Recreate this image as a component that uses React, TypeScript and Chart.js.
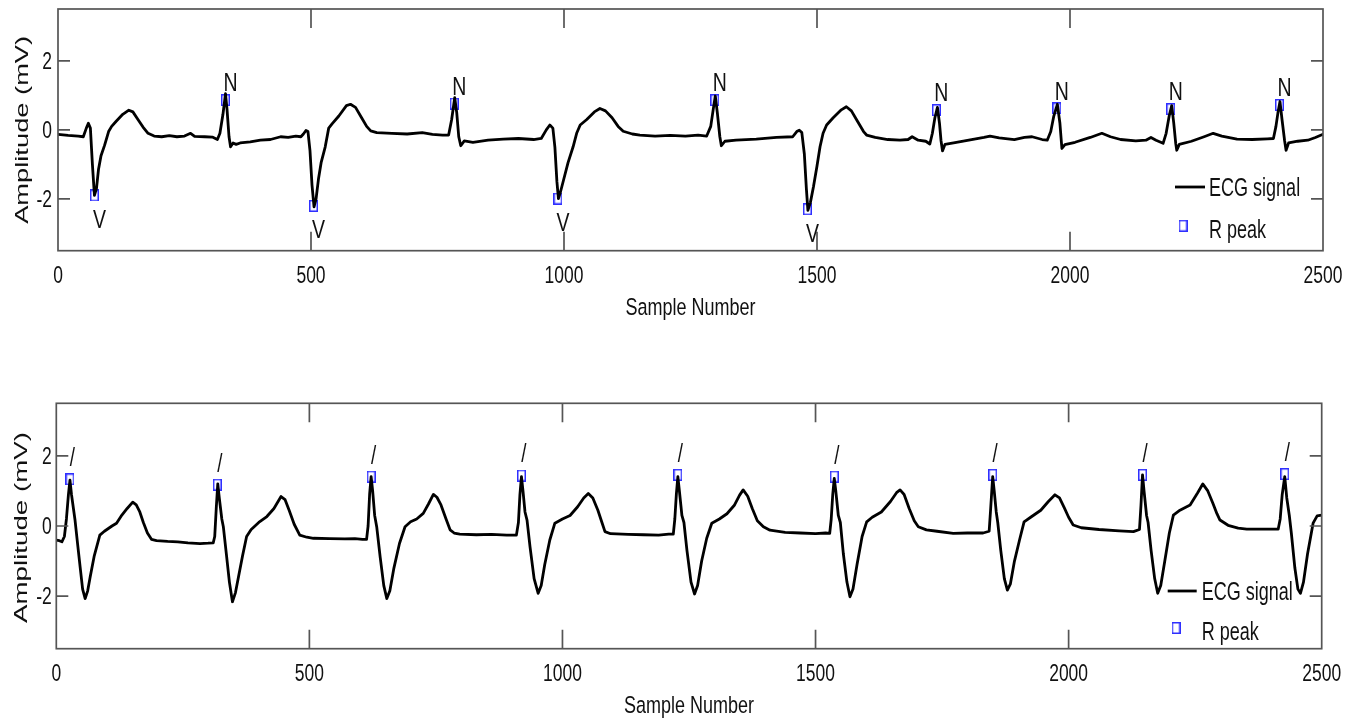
import React, { useEffect, useRef } from "react";
import { Chart, registerables } from "chart.js";

Chart.register(...registerables);

// ---------------- data ----------------
const xTickValues = [0, 500, 1000, 1500, 2000, 2500];
const yTickValues = [-2, 0, 2];
const xTitle = "Sample Number";
const yTitle = "Amplitude (mV)";
const legendLabels = ["ECG signal", "R peak"];

const topSamples = [
  0, 20, 40, 50, 56, 60, 64, 68, 72, 76,
  80, 85, 92, 100, 106, 115, 128, 140, 148, 158,
  168, 178, 190, 205, 220, 235, 250, 262, 270, 290,
  305, 315, 320, 326, 331, 334, 338, 341, 346, 352,
  360, 380, 400, 420, 440, 455, 470, 480, 485, 490,
  494, 498, 502, 506, 510, 515, 520, 528, 535, 542,
  555, 570, 578, 588, 600, 610, 618, 630, 660, 690,
  720, 740, 760, 772, 778, 784, 788, 792, 796, 803,
  820, 850, 880, 910, 940, 955, 965, 972, 978, 982,
  986, 989, 993, 999, 1008, 1018, 1025, 1032, 1045, 1060,
  1071, 1082, 1095, 1107, 1117, 1135, 1150, 1180, 1210, 1240,
  1265, 1282, 1290, 1295, 1299, 1303, 1308, 1311, 1318, 1340,
  1380, 1420, 1452, 1460, 1465, 1470, 1475, 1479, 1482, 1487,
  1493, 1500, 1506, 1512, 1519, 1532, 1548, 1558, 1568, 1580,
  1592, 1598, 1615, 1640, 1664, 1680, 1688, 1700, 1715, 1723,
  1728, 1733, 1738, 1742, 1745, 1748, 1753, 1770, 1800, 1830,
  1842, 1860, 1890, 1910, 1925, 1945, 1955, 1962, 1968, 1975,
  1980, 1984, 1990, 2010, 2040, 2063, 2080, 2100, 2130, 2150,
  2160, 2170, 2184, 2190, 2196, 2201, 2205, 2209, 2211, 2216,
  2240, 2265, 2283, 2300, 2330, 2360, 2390, 2402, 2407, 2411,
  2415, 2419, 2424, 2427, 2432, 2450, 2470, 2485, 2500,
];
const topAmplitudes = [
  -0.13, -0.16, -0.18, -0.2, 0.05, 0.19, 0.05, -1.0, -1.9, -1.7,
  -1.15, -0.75, -0.45, -0.05, 0.1, 0.25, 0.45, 0.57, 0.52, 0.3,
  0.08, -0.1, -0.18, -0.2, -0.17, -0.2, -0.18, -0.1, -0.19, -0.2,
  -0.21, -0.28, -0.1, 0.45, 1.05, 0.6, -0.2, -0.49, -0.38, -0.42,
  -0.38, -0.35, -0.3, -0.28, -0.2, -0.22, -0.18, -0.2, -0.12, -0.02,
  -0.05, -0.6, -1.6, -2.23, -2.0, -1.4, -0.95, -0.5, 0.05, 0.18,
  0.4, 0.7, 0.74, 0.65, 0.35, 0.1, -0.03, -0.08, -0.1, -0.12,
  -0.08, -0.13, -0.15, -0.15, 0.3, 0.93, 0.5, -0.2, -0.46, -0.32,
  -0.36, -0.3, -0.27, -0.25, -0.28, -0.25, 0.0, 0.14, 0.05, -0.5,
  -1.5, -1.99, -1.8, -1.46, -0.95, -0.49, -0.1, 0.14, 0.3, 0.52,
  0.62, 0.55, 0.35, 0.1, -0.04, -0.12, -0.15, -0.18, -0.16, -0.18,
  -0.15, -0.18, 0.1, 0.6, 0.98, 0.5, -0.2, -0.46, -0.33, -0.3,
  -0.27, -0.22, -0.2, -0.05, -0.01, -0.08, -0.7, -1.7, -2.33, -2.1,
  -1.65, -1.05, -0.49, -0.1, 0.14, 0.35, 0.58, 0.67, 0.55, 0.25,
  -0.05, -0.15, -0.22, -0.28, -0.3, -0.28, -0.2, -0.3, -0.33, -0.41,
  -0.1, 0.35, 0.65, 0.2, -0.3, -0.61, -0.42, -0.38, -0.3, -0.22,
  -0.18, -0.23, -0.28, -0.22, -0.2, -0.28, -0.3, -0.05, 0.4, 0.74,
  0.2, -0.54, -0.43, -0.36, -0.22, -0.1, -0.2, -0.28, -0.32, -0.3,
  -0.22, -0.3, -0.39, -0.1, 0.4, 0.7, 0.2, -0.4, -0.59, -0.42,
  -0.33, -0.2, -0.1, -0.18, -0.27, -0.28, -0.26, -0.25, 0.1, 0.5,
  0.82, 0.3, -0.3, -0.59, -0.38, -0.33, -0.3, -0.22, -0.13,
];
const topPeakSamples = [72, 331, 505, 783, 988, 1298, 1481, 1736, 1974, 2199, 2414];
const topPeakAmplitudes = [-1.9, 0.86, -2.2, 0.76, -1.99, 0.86, -2.3, 0.57, 0.62, 0.6, 0.72];
const topPeakLabels = ["V", "N", "V", "N", "V", "N", "V", "N", "N", "N", "N"];

const bottomSamples = [
  0, 6, 11, 16, 20, 24, 27, 30, 37, 42,
  47, 52, 57, 62, 67, 75, 86, 95, 110, 119,
  128, 140, 151, 158, 165, 172, 180, 188, 198, 220,
  240, 260, 284, 300, 310, 313, 316, 319, 322, 327,
  330, 336, 342, 348, 354, 360, 368, 376, 385, 400,
  416, 430, 444, 452, 460, 470, 481, 495, 508, 540,
  570, 590, 605, 613, 616, 619, 622, 625, 629, 633,
  640, 647, 653, 659, 667, 678, 689, 700, 712, 725,
  735, 745, 752, 760, 770, 778, 786, 797, 830, 860,
  890, 909, 913, 916, 919, 922, 926, 930, 936, 944,
  952, 958, 965, 975, 985, 1000, 1015, 1030, 1042, 1051,
  1060, 1070, 1078, 1084, 1095, 1130, 1160, 1190, 1210, 1219,
  1222, 1225, 1228, 1231, 1236, 1240, 1246, 1254, 1261, 1267,
  1275, 1285, 1295, 1310, 1325, 1340, 1350, 1357, 1366, 1375,
  1385, 1397, 1410, 1440, 1470, 1500, 1520, 1528, 1531, 1534,
  1537, 1540, 1545, 1549, 1555, 1562, 1568, 1574, 1582, 1592,
  1601, 1612, 1630, 1648, 1660, 1667, 1675, 1685, 1695, 1703,
  1719, 1740, 1772, 1800, 1831, 1843, 1846, 1850, 1853, 1857,
  1860, 1866, 1873, 1879, 1885, 1893, 1903, 1912, 1925, 1945,
  1960, 1973, 1982, 1992, 2000, 2009, 2025, 2060, 2100, 2128,
  2140, 2143, 2146, 2149, 2154, 2157, 2163, 2170, 2176, 2182,
  2190, 2199, 2207, 2220, 2240, 2255, 2265, 2275, 2285, 2293,
  2299, 2315, 2335, 2352, 2390, 2414, 2418, 2422, 2427, 2431,
  2436, 2440, 2447, 2453, 2458, 2464, 2472, 2483, 2491, 2500,
];
const bottomAmplitudes = [
  -0.4, -0.42, -0.45, -0.3, 0.2, 0.9, 1.31, 0.9, 0.17, -0.5,
  -1.16, -1.8, -2.07, -1.85, -1.45, -0.85, -0.26, -0.15, 0.0, 0.08,
  0.28, 0.5, 0.68, 0.6, 0.4, 0.1, -0.2, -0.38, -0.42, -0.44,
  -0.45, -0.48, -0.5, -0.49, -0.48, -0.3, 0.5, 1.2, 0.8, 0.2,
  -0.02, -0.8, -1.6, -2.16, -1.9, -1.45, -0.85, -0.3, -0.1, 0.1,
  0.27, 0.5, 0.84, 0.75, 0.45, 0.05, -0.26, -0.32, -0.35, -0.36,
  -0.37, -0.36, -0.38, -0.38, 0.0, 0.9, 1.41, 1.0, 0.3, -0.02,
  -0.9, -1.7, -2.07, -1.85, -1.2, -0.5, -0.02, 0.12, 0.2, 0.36,
  0.62, 0.9, 0.82, 0.6, 0.2, -0.11, -0.2, -0.23, -0.25, -0.24,
  -0.26, -0.26, 0.1, 0.9, 1.41, 1.0, 0.4, 0.17, -0.6, -1.5,
  -1.92, -1.7, -1.1, -0.4, 0.08, 0.2, 0.3, 0.55, 0.8, 0.93,
  0.8, 0.45, 0.1, -0.16, -0.22, -0.24, -0.25, -0.26, -0.23, -0.23,
  0.2, 0.9, 1.41, 1.0, 0.3, 0.1, -0.7, -1.6, -1.94, -1.7,
  -1.0, -0.35, 0.08, 0.2, 0.35, 0.6, 0.88, 1.03, 0.85, 0.5,
  0.15, -0.02, -0.12, -0.18, -0.2, -0.22, -0.2, -0.21, 0.2, 0.9,
  1.36, 1.0, 0.3, 0.1, -0.8, -1.6, -2.02, -1.8, -1.1, -0.3,
  0.12, 0.25, 0.4, 0.7, 0.95, 1.03, 0.9, 0.5, 0.15, -0.02,
  -0.11, -0.15, -0.21, -0.2, -0.2, -0.15, 0.5, 1.41, 1.0, 0.4,
  0.1, -0.7, -1.5, -1.83, -1.65, -1.0, -0.4, 0.12, 0.25, 0.45,
  0.7, 0.89, 0.8, 0.5, 0.25, 0.03, -0.05, -0.1, -0.14, -0.16,
  -0.1, 0.6, 1.46, 1.0, 0.3, 0.1, -0.7, -1.5, -1.92, -1.7,
  -1.0, -0.2, 0.31, 0.45, 0.6, 0.95, 1.2, 1.0, 0.65, 0.35,
  0.17, 0.02, -0.06, -0.09, -0.09, -0.09, 0.2, 0.9, 1.41, 0.8,
  0.3, -0.2, -1.2, -1.8, -1.92, -1.6, -0.8, 0.08, 0.29, 0.31,
];
const bottomPeakSamples = [27, 318, 622, 919, 1228, 1537, 1850, 2146, 2427];
const bottomPeakAmplitudes = [1.33, 1.18, 1.41, 1.44, 1.46, 1.41, 1.46, 1.46, 1.48];
const bottomPeakLabels = ["/", "/", "/", "/", "/", "/", "/", "/", "/"];

// ---------------- styling ----------------
const REGULAR = '"Liberation Sans", Arial, sans-serif';
const TEXT = "#111111";
const FRAME = "#555555";
const MARKER_BLUE = "#2f2fff";

type Panel = {
  top: number;
  height: number;
  samples: number[];
  amps: number[];
  peakSamples: number[];
  peakAmps: number[];
  peakLabels: string[];
  padTop: number;
  padRight: number;
  padBottom: number;
  yAxisWidth: number;
  xAxisHeight: number;
  yTickPad: number;
  xTickDy: number;
  xTitleDy: number;
  legend: { lineStart: number; lineEnd: number; textX: number; row1: number; row2: number; markerX: number; markerY: number };
  yTitleX: number;
  yTitleLen: number;
  yTitleDy: number;
};

const panels: Panel[] = [
  {
    top: 0,
    height: 330,
    samples: topSamples,
    amps: topAmplitudes,
    peakSamples: topPeakSamples,
    peakAmps: topPeakAmplitudes,
    peakLabels: topPeakLabels,
    padTop: 9,
    padRight: 37,
    padBottom: 9.5,
    yAxisWidth: 58,
    xAxisHeight: 69.8,
    yTickPad: 6,
    xTickDy: 24.3,
    xTitleDy: 56,
    legend: { lineStart: 148, lineEnd: 118, textX: 114, row1: 63.7, row2: 21.7, markerX: 140, markerY: 25 },
    yTitleX: 21,
    yTitleLen: 188,
    yTitleDy: 0,
  },
  {
    top: 350,
    height: 371,
    samples: bottomSamples,
    amps: bottomAmplitudes,
    peakSamples: bottomPeakSamples,
    peakAmps: bottomPeakAmplitudes,
    peakLabels: bottomPeakLabels,
    padTop: 53.3,
    padRight: 38.3,
    padBottom: 2.5,
    yAxisWidth: 56.3,
    xAxisHeight: 69.8,
    yTickPad: 4.6,
    xTickDy: 24,
    xTitleDy: 56.3,
    legend: { lineStart: 154, lineEnd: 125, textX: 120, row1: 57.7, row2: 18, markerX: 145.7, markerY: 20.7 },
    yTitleX: 20,
    yTitleLen: 191,
    yTitleDy: 1.5,
  },
];

function makeMarker(): HTMLCanvasElement {
  const c = document.createElement("canvas");
  c.width = 9;
  c.height = 12;
  const g = c.getContext("2d")!;
  g.strokeStyle = MARKER_BLUE;
  g.lineWidth = 1.5;
  g.strokeRect(0.75, 0.75, 7.5, 10.5);
  return c;
}

// Draws text whose capital letters are centred on capCenterY, squeezed horizontally by sx
function drawText(
  ctx: CanvasRenderingContext2D,
  text: string,
  x: number,
  capCenterY: number,
  size: number,
  sx: number,
  align: CanvasTextAlign
) {
  ctx.save();
  ctx.translate(x, capCenterY + 0.358 * size);
  ctx.scale(sx, 1);
  ctx.font = `${size}px ${REGULAR}`;
  ctx.textAlign = align;
  ctx.textBaseline = "alphabetic";
  ctx.fillStyle = TEXT;
  ctx.fillText(text, 0, 0);
  ctx.restore();
}

function decorPlugin(p: Panel, marker: HTMLCanvasElement) {
  return {
    id: "ecgDecor",
    afterDraw(chart: any) {
      const { ctx, chartArea: a } = chart;
      const xs = chart.scales.x;
      const ys = chart.scales.y;
      ctx.save();
      // frame + inward ticks
      ctx.strokeStyle = FRAME;
      ctx.lineWidth = 1.7;
      ctx.strokeRect(a.left, a.top, a.right - a.left, a.bottom - a.top);
      ctx.beginPath();
      xs.ticks.forEach((t: any) => {
        if (t.value <= xs.min || t.value >= xs.max) return;
        const px = xs.getPixelForValue(t.value);
        ctx.moveTo(px, a.bottom);
        ctx.lineTo(px, a.bottom - 19);
        ctx.moveTo(px, a.top);
        ctx.lineTo(px, a.top + 19);
      });
      ys.ticks.forEach((t: any) => {
        const py = ys.getPixelForValue(t.value);
        ctx.moveTo(a.left, py);
        ctx.lineTo(a.left + 12, py);
        ctx.moveTo(a.right, py);
        ctx.lineTo(a.right - 12, py);
      });
      ctx.stroke();

      // tick labels (from the library's scale ticks)
      xs.ticks.forEach((t: any) => {
        drawText(ctx, String(t.value), xs.getPixelForValue(t.value), a.bottom + p.xTickDy, 23.3, 0.75, "center");
      });
      ys.ticks.forEach((t: any) => {
        drawText(ctx, String(t.value), a.left - p.yTickPad, ys.getPixelForValue(t.value), 23.3, 0.75, "right");
      });
      // x-axis title
      drawText(ctx, xTitle, (a.left + a.right) / 2, a.bottom + p.xTitleDy, 23.7, 0.76, "center");

      // beat annotations
      p.peakSamples.forEach((s, i) => {
        const lab = p.peakLabels[i];
        const px = xs.getPixelForValue(s);
        const py = ys.getPixelForValue(p.peakAmps[i]);
        const size = lab === "/" ? 25 : 26;
        const dy = lab === "V" ? 23 : lab === "N" ? -18 : -22;
        const dx = lab === "/" ? 2.5 : 5;
        drawText(ctx, lab, px + dx, py + dy, size, 0.75, "center");
      });

      // legend
      const L = p.legend;
      ctx.strokeStyle = "#000";
      ctx.lineWidth = 2.8;
      ctx.beginPath();
      ctx.moveTo(a.right - L.lineStart, a.bottom - L.row1);
      ctx.lineTo(a.right - L.lineEnd, a.bottom - L.row1);
      ctx.stroke();
      drawText(ctx, legendLabels[0], a.right - L.textX, a.bottom - L.row1, 26.5, 0.68, "left");
      ctx.drawImage(marker, a.right - L.markerX - marker.width / 2, a.bottom - L.markerY - marker.height / 2);
      drawText(ctx, legendLabels[1], a.right - L.textX, a.bottom - L.row2, 26.5, 0.68, "left");

      // y-axis title (stretched along its length like the reference)
      ctx.save();
      ctx.translate(p.yTitleX, (a.top + a.bottom) / 2 + p.yTitleDy);
      ctx.rotate(-Math.PI / 2);
      ctx.font = `18.5px ${REGULAR}`;
      const w = ctx.measureText(yTitle).width;
      ctx.scale(p.yTitleLen / w, 1);
      ctx.textAlign = "center";
      ctx.textBaseline = "alphabetic";
      ctx.fillStyle = TEXT;
      ctx.fillText(yTitle, 0, 0.358 * 18.5);
      ctx.restore();

      ctx.restore();
    },
  };
}

function buildConfig(p: Panel, marker: HTMLCanvasElement): any {
  return {
    type: "line",
    data: {
      datasets: [
        {
          label: legendLabels[0],
          data: p.samples.map((s, i) => ({ x: s, y: p.amps[i] })),
          borderColor: "#000000",
          borderWidth: 2.8,
          borderJoinStyle: "round",
          borderCapStyle: "round",
          pointRadius: 0,
          tension: 0,
          fill: false,
          order: 0,
        },
        {
          label: legendLabels[1],
          data: p.peakSamples.map((s, i) => ({ x: s, y: p.peakAmps[i] })),
          showLine: false,
          pointStyle: marker,
          pointRadius: 5,
          borderColor: MARKER_BLUE,
          backgroundColor: "rgba(0,0,0,0)",
          order: 1,
        },
      ],
    },
    options: {
      responsive: false,
      animation: false,
      events: [],
      layout: { padding: { left: 0, right: p.padRight, top: p.padTop, bottom: p.padBottom } },
      plugins: { legend: { display: false }, tooltip: { enabled: false } },
      scales: {
        x: {
          type: "linear",
          min: 0,
          max: 2500,
          afterBuildTicks: (s: any) => {
            s.ticks = xTickValues.map((v) => ({ value: v }));
          },
          afterFit: (s: any) => {
            s.height = p.xAxisHeight;
            s.paddingLeft = 0;
            s.paddingRight = 0;
          },
          ticks: { display: false },
          grid: { display: false, drawTicks: false },
          border: { display: false },
          title: { display: false, text: xTitle },
        },
        y: {
          type: "linear",
          min: -3.5,
          max: 3.5,
          afterBuildTicks: (s: any) => {
            s.ticks = yTickValues.map((v) => ({ value: v }));
          },
          afterFit: (s: any) => {
            s.width = p.yAxisWidth;
            s.paddingTop = 0;
            s.paddingBottom = 0;
          },
          ticks: { display: false },
          grid: { display: false, drawTicks: false },
          border: { display: false },
          title: { display: false, text: yTitle },
        },
      },
    },
    plugins: [decorPlugin(p, marker)],
  };
}

function EcgPanel({ panel }: { panel: Panel }) {
  const ref = useRef<HTMLCanvasElement>(null);
  useEffect(() => {
    const marker = makeMarker();
    const chart = new Chart(ref.current as HTMLCanvasElement, buildConfig(panel, marker));
    return () => chart.destroy();
  }, [panel]);
  return (
    <canvas
      ref={ref}
      width={1360}
      height={panel.height}
      style={{ position: "absolute", left: 0, top: panel.top, width: 1360, height: panel.height }}
    />
  );
}

export default function App() {
  return (
    <div
      style={{
        position: "absolute",
        left: 0,
        top: 0,
        width: 1360,
        height: 721,
        background: "#ffffff",
        overflow: "hidden",
      }}
    >
      {panels.map((p, i) => (
        <EcgPanel key={i} panel={p} />
      ))}
    </div>
  );
}
